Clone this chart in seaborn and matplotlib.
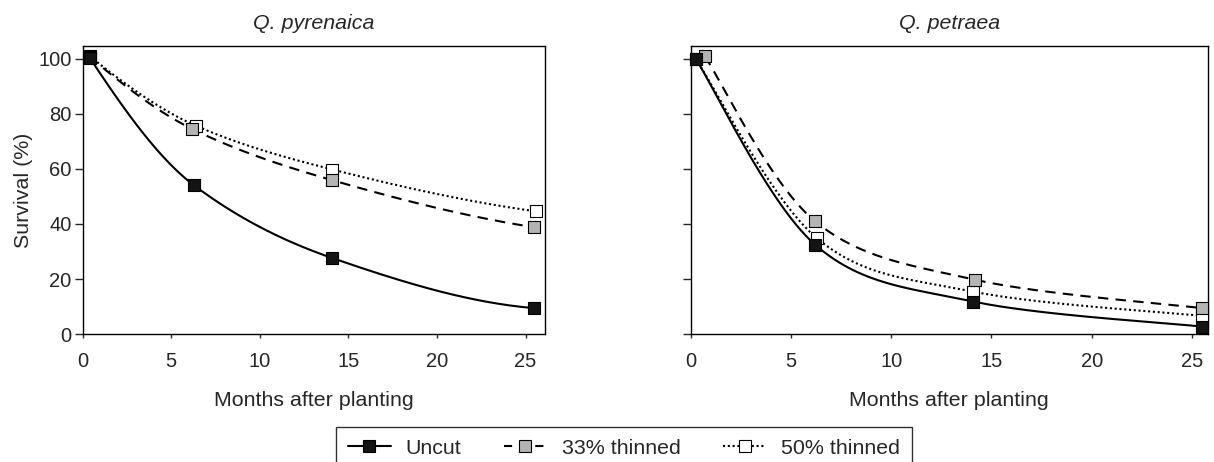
import numpy as np
import matplotlib
matplotlib.use("Agg")
import matplotlib.pyplot as plt
from matplotlib.lines import Line2D
import seaborn as sns

# months after planting / survival (%)
pyr_uncut_x = [0.4, 6.3, 14.1, 25.5]
pyr_uncut_y = [100.5, 54.0, 27.6, 9.4]
pyr_33_x = [0.4, 6.2, 14.1, 25.5]
pyr_33_y = [100.8, 74.5, 55.9, 38.8]
pyr_50_x = [0.4, 6.4, 14.1, 25.6]
pyr_50_y = [101.0, 75.7, 59.8, 44.6]

pet_uncut_x = [0.25, 6.2, 14.1, 25.5]
pet_uncut_y = [100.0, 32.5, 11.8, 2.7]
pet_33_x = [0.7, 6.2, 14.2, 25.5]
pet_33_y = [101.0, 41.0, 19.7, 9.4]
pet_50_x = [0.25, 6.3, 14.1, 25.5]
pet_50_y = [100.0, 34.8, 15.4, 6.6]

series_names = ['Uncut', '33% thinned', '50% thinned']
panel_titles = ['Q. pyrenaica', 'Q. petraea']


def pchip(x, y, n=200):
    # shape preserving cubic through the points (left panel curves)
    x = np.asarray(x, float)
    y = np.asarray(y, float)
    h = np.diff(x)
    dl = np.diff(y) / h
    d = np.zeros_like(y)
    for k in range(1, len(x) - 1):
        if dl[k - 1] * dl[k] > 0:
            w1 = 2 * h[k] + h[k - 1]
            w2 = h[k] + 2 * h[k - 1]
            d[k] = (w1 + w2) / (w1 / dl[k - 1] + w2 / dl[k])
    def end(h0, h1, d0, d1):
        v = ((2 * h0 + h1) * d0 - h0 * d1) / (h0 + h1)
        if np.sign(v) != np.sign(d0):
            v = 0
        elif np.sign(d0) != np.sign(d1) and abs(v) > abs(3 * d0):
            v = 3 * d0
        return v
    d[0] = end(h[0], h[1], dl[0], dl[1])
    d[-1] = end(h[-1], h[-2], dl[-1], dl[-2])
    xs = np.linspace(x[0], x[-1], n)
    k = np.clip(np.searchsorted(x, xs) - 1, 0, len(x) - 2)
    t = (xs - x[k]) / h[k]
    ys = ((2 * t**3 - 3 * t**2 + 1) * y[k] + (t**3 - 2 * t**2 + t) * h[k] * d[k]
          + (-2 * t**3 + 3 * t**2) * y[k + 1] + (t**3 - t**2) * h[k] * d[k + 1])
    return xs, ys


def bezier(x, y, n=60):
    # spreadsheet-style smoothed line (right panel curves)
    p = np.column_stack([x, y]).astype(float)
    ext = np.vstack([p[0], p, p[-1]])
    t = np.linspace(0, 1, n)[:, None]
    out = []
    for i in range(len(p) - 1):
        p0, p3 = ext[i + 1], ext[i + 2]
        c1 = p0 + (ext[i + 2] - ext[i]) / 6
        c2 = p3 - (ext[i + 3] - ext[i + 1]) / 6
        out.append(((1 - t)**3) * p0 + 3 * ((1 - t)**2) * t * c1
                   + 3 * (1 - t) * t**2 * c2 + t**3 * p3)
    out = np.vstack(out)
    return out[:, 0], out[:, 1]


sns.set_style('ticks')
plt.rcParams['font.family'] = ['Liberation Sans', 'DejaVu Sans']
plt.rcParams['axes.linewidth'] = 1.0
FS = 15.4
TFS = 14.5

styles = [
    dict(dashes=None, face='#141414'),
    dict(dashes=(5, 3.5), face='#b4b4b4'),
    dict(dashes=(1, 1.3), face='white'),
]

fig = plt.figure(figsize=(12.14, 4.62), dpi=100)
ax1 = fig.add_axes([0.068, 0.277, 0.381, 0.624])
ax2 = fig.add_axes([0.569, 0.277, 0.426, 0.624])

panels = [
    (ax1, [(pyr_uncut_x, pyr_uncut_y), (pyr_33_x, pyr_33_y), (pyr_50_x, pyr_50_y)], 26.1, pchip),
    (ax2, [(pet_uncut_x, pet_uncut_y), (pet_33_x, pet_33_y), (pet_50_x, pet_50_y)], 25.8, bezier),
]

for i, (ax, data, xmax, curve) in enumerate(panels):
    for (xv, yv), st in zip(data, styles):
        xs, ys = curve(xv, yv)
        line = ax.plot(xs, ys, color='black', lw=1.5, zorder=2)[0]
        if st['dashes'] is not None:
            line.set_dashes(st['dashes'])
    for (xv, yv), st in reversed(list(zip(data, styles))):
        sns.scatterplot(x=xv, y=yv, ax=ax, marker='s', s=80, color=st['face'],
                        edgecolor='black', linewidth=0.8, zorder=3, clip_on=False)
    ax.set_xlim(0, xmax)
    ax.set_ylim(0, 104.8)
    ax.set_xticks([0, 5, 10, 15, 20, 25])
    ax.set_yticks([0, 20, 40, 60, 80, 100])
    ax.tick_params(axis='x', length=3, width=1, labelsize=TFS, pad=10)
    ax.tick_params(axis='y', length=6, width=1, labelsize=TFS, pad=2)
    for sp in ax.spines.values():
        sp.set_visible(True)
        sp.set_color('black')
    ax.set_title(panel_titles[i], fontsize=FS, style='italic', pad=12)
    ax.set_xlabel('Months after planting', fontsize=FS, labelpad=14)

ax1.set_ylabel('Survival (%)', fontsize=FS, labelpad=4)
ax2.set_ylabel('')
ax2.set_yticklabels([])

handles = []
for name, st in zip(series_names, styles):
    h = Line2D([], [], color='black', lw=1.5, marker='s', markersize=8.5,
               markerfacecolor=st['face'], markeredgecolor='black', markeredgewidth=0.8)
    if st['dashes'] is not None:
        h.set_dashes(st['dashes'] if name == '50% thinned' else (3.9, 3.6))
    handles.append(h)

leg = fig.legend(handles, series_names, loc='upper center', bbox_to_anchor=(0.514, 0.076),
                 ncol=3, frameon=True, fancybox=False, fontsize=FS, handlelength=2.0,
                 columnspacing=2.0, borderpad=0.55, handletextpad=0.7, borderaxespad=0)
leg.get_frame().set_edgecolor('black')
leg.get_frame().set_linewidth(1.0)

fig.savefig('out.png', dpi=100)
